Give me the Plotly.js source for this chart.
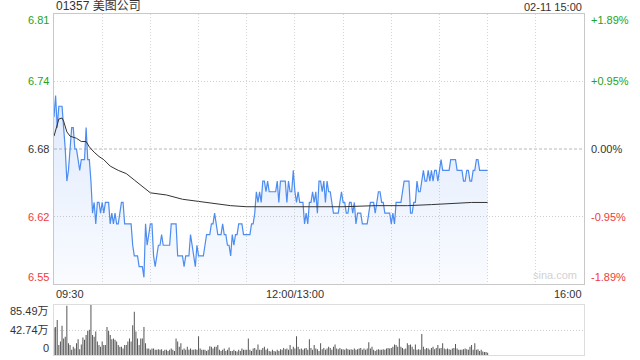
<!DOCTYPE html>
<html><head><meta charset="utf-8">
<script src="https://cdn.plot.ly/plotly-3.0.1.min.js"></script>
<style>html,body{margin:0;padding:0;background:#fff}#chart{width:640px;height:360px}</style>
</head><body><div id="chart"></div>
<script>
const chartTitle = '01357 美图公司';
const stamp = '02-11 15:00';
const prevClose = 6.68;

// one price per trading minute (0 = 09:30, 150 = 12:00/13:00, 270 = 15:00)
const price = [
6.71,6.73,6.70,6.72,6.72,6.72,6.70,6.68,6.65,6.66,
6.68,6.70,6.70,6.68,6.68,6.67,6.66,6.67,6.67,6.67,
6.70,6.67,6.67,6.65,6.62,6.63,6.61,6.63,6.63,6.62,
6.63,6.62,6.63,6.63,6.63,6.61,6.62,6.61,6.62,6.61,
6.61,6.62,6.63,6.63,6.61,6.61,6.61,6.61,6.61,6.59,
6.58,6.58,6.58,6.57,6.57,6.57,6.56,6.61,6.59,6.60,
6.61,6.61,6.58,6.57,6.58,6.59,6.59,6.60,6.59,6.59,
6.59,6.59,6.59,6.61,6.61,6.61,6.61,6.58,6.58,6.58,
6.58,6.57,6.58,6.58,6.58,6.60,6.59,6.58,6.57,6.59,
6.58,6.58,6.58,6.58,6.59,6.60,6.60,6.60,6.61,6.61,
6.62,6.61,6.60,6.60,6.60,6.61,6.60,6.60,6.59,6.59,
6.58,6.60,6.59,6.60,6.60,6.61,6.61,6.61,6.60,6.60,
6.60,6.60,6.60,6.61,6.61,6.62,6.64,6.63,6.64,6.63,
6.65,6.65,6.64,6.65,6.64,6.64,6.64,6.64,6.64,6.65,
6.63,6.65,6.65,6.65,6.65,6.63,6.65,6.64,6.64,6.66,
6.64,6.63,6.64,6.63,6.63,6.63,6.61,6.62,6.61,6.63,
6.63,6.64,6.63,6.64,6.62,6.65,6.65,6.64,6.65,6.63,
6.65,6.64,6.64,6.63,6.62,6.62,6.62,6.62,6.63,6.64,
6.63,6.63,6.62,6.62,6.63,6.63,6.62,6.63,6.61,6.62,
6.62,6.62,6.61,6.61,6.61,6.61,6.62,6.63,6.63,6.63,
6.62,6.63,6.64,6.64,6.63,6.63,6.62,6.62,6.62,6.62,
6.61,6.62,6.61,6.63,6.63,6.63,6.63,6.64,6.65,6.65,
6.65,6.65,6.62,6.62,6.63,6.63,6.65,6.64,6.64,6.65,
6.66,6.65,6.65,6.66,6.65,6.66,6.65,6.66,6.66,6.65,
6.66,6.67,6.66,6.66,6.66,6.66,6.66,6.67,6.67,6.67,
6.67,6.66,6.66,6.66,6.66,6.65,6.65,6.66,6.66,6.65,
6.65,6.66,6.66,6.67,6.67,6.66,6.66,6.66,6.66,6.66,
6.66
];
const minutes = price.map((_, i) => i);

// average price line, read at these minutes
const avgMinutes = [0,3,5,6,8,10,14,17,20,22,25,28,31,35,40,45,50,55,60,70,80,90,100,110,120,150,180,200,220,235,245,260,270];
const avgPrice   = [6.692,6.708,6.709,6.706,6.696,6.692,6.690,6.687,6.687,6.682,6.677,6.673,6.670,6.664,6.660,6.657,6.651,6.645,6.639,6.637,6.633,6.631,6.629,6.627,6.626,6.626,6.626,6.627,6.627,6.628,6.629,6.630,6.630];

// volume per minute, in 万 shares
const volume = [
47,48,60,17,23,50,28,31,84,20,
17,9,14,11,20,27,10,18,30,26,
34,41,43,85.49,34,31,40,23,17,14,
23,17,17,48,41,34,27,28,26,23,
17,14,14,11,17,17,23,28,23,51,
74,40,28,17,28,28,48,20,11,11,
9,11,11,9,9,10,9,10,7,9,
9,7,9,11,9,7,28,23,14,20,
9,11,9,14,9,11,9,9,10,9,
32,11,9,9,9,7,9,15,14,11,
14,14,17,9,7,9,11,7,9,13,
7,7,9,7,6,9,7,11,9,9,
9,28,9,7,11,12,9,18,9,9,
12,14,9,11,
7,6,9,7,6,9,7,10,9,12,
10,11,9,17,10,14,11,32,14,10,
11,9,11,12,9,27,12,9,17,11,
10,7,20,10,12,9,11,14,12,9,
14,18,11,10,12,10,10,9,11,10,
9,10,9,11,9,10,11,12,9,11,
9,11,22,11,14,9,7,9,10,9,
9,10,9,11,12,11,12,14,18,17,
14,28,14,12,10,11,20,17,18,14,
10,18,9,10,9,36,14,10,12,11,
9,12,14,10,12,17,11,12,20,11,
10,11,10,9,11,12,19,11,9,9,
9,10,11,10,9,14,17,9,20,9,
10,7,9,6,5,5,4
];

const pctTicks = [1.89, 0.95, 0, -0.95, -1.89];
const priceTickLabels = ['6.81', '6.74', '6.68', '6.62', '6.55'];
const pctTickLabels = ['+1.89%', '+0.95%', '0.00%', '-0.95%', '-1.89%'];
const timeTickVals = [0, 150, 330];
const timeTickLabels = ['09:30', '12:00/13:00', '16:00'];
const volTickVals = [85.49, 42.745, 0];
const volTickLabels = ['85.49万', '42.74万', '0'];

const GREEN = '#22a322', RED = '#f03a3a', DARK = '#333333';
const FONT = 'Liberation Sans, Arial, Noto Sans CJK SC, sans-serif';
const yRange = [prevClose * (1 - 0.0189), prevClose * (1 + 0.0189)];
const mainBottom = (355 - 284) / 341;
const volTop = (355 - 305) / 341;

const traces = [
  {
    x: minutes, y: price, type: 'scatter', mode: 'lines',
    line: {color: '#4d8cf0', width: 1.2},
    fill: 'tozeroy',
    fillgradient: {type: 'vertical', start: yRange[0], stop: 6.73,
      colorscale: [[0, 'rgba(70,130,240,0.03)'], [1, 'rgba(70,130,240,0.17)']]},
    xaxis: 'x', yaxis: 'y', hoverinfo: 'skip'
  },
  {
    x: avgMinutes, y: avgPrice, type: 'scatter', mode: 'lines',
    line: {color: '#333333', width: 1}, xaxis: 'x', yaxis: 'y', hoverinfo: 'skip'
  },
  {
    x: minutes, y: volume, type: 'bar', width: 0.62,
    marker: {color: '#555555', line: {width: 0}},
    xaxis: 'x2', yaxis: 'y2', hoverinfo: 'skip'
  }
];

const annotations = [];
annotations.push({xref: 'paper', yref: 'paper', x: 0, y: 1, xanchor: 'left', yanchor: 'bottom',
  text: chartTitle, showarrow: false, font: {family: FONT, size: 12, color: DARK}, yshift: -1});
annotations.push({xref: 'paper', yref: 'paper', x: 1, y: 1, xanchor: 'right', yanchor: 'bottom',
  text: stamp, showarrow: false, font: {family: FONT, size: 11, color: DARK}, yshift: -1});

pctTicks.forEach((p, i) => {
  const col = p > 0 ? GREEN : (p < 0 ? RED : DARK);
  const ys = i === 0 ? -6 : (i === pctTicks.length - 1 ? 7 : 0);
  const yv = prevClose * (1 + p / 100);
  annotations.push({xref: 'paper', yref: 'y', x: 0, y: yv, xanchor: 'right', yanchor: 'middle',
    xshift: -3, yshift: ys, text: priceTickLabels[i], showarrow: false, font: {family: FONT, size: 11, color: col}});
  annotations.push({xref: 'paper', yref: 'y', x: 1, y: yv, xanchor: 'left', yanchor: 'middle',
    xshift: 5, yshift: ys, text: pctTickLabels[i], showarrow: false, font: {family: FONT, size: 11, color: col}});
});

timeTickVals.forEach((t, i) => {
  annotations.push({xref: 'x', yref: 'paper', x: t, y: mainBottom, yanchor: 'top',
    xanchor: i === 0 ? 'left' : (i === timeTickVals.length - 1 ? 'right' : 'center'),
    yshift: -2, text: timeTickLabels[i], showarrow: false, font: {family: FONT, size: 11, color: DARK}});
});

volTickVals.forEach((v, i) => {
  const ys = i === 0 ? -6 : (i === volTickVals.length - 1 ? 7 : 0);
  annotations.push({xref: 'paper', yref: 'y2', x: 0, y: v, xanchor: 'right', yanchor: 'middle',
    xshift: -3, yshift: ys, text: volTickLabels[i], showarrow: false, font: {family: FONT, size: 11, color: DARK}});
});

annotations.push({xref: 'paper', yref: 'paper', x: 1, y: mainBottom, xanchor: 'right', yanchor: 'bottom',
  xshift: -5, yshift: 1, text: 'sina.com', showarrow: false, font: {family: FONT, size: 11, color: '#d2d2d2'}});

const gridX = [];
for (let t = 30; t < 330; t += 30) gridX.push(t);

const layout = {
  width: 640, height: 360,
  margin: {l: 54, r: 56, t: 14, b: 5, pad: 0},
  paper_bgcolor: '#fff', plot_bgcolor: '#fff',
  showlegend: false,
  font: {family: FONT, size: 11, color: DARK},
  xaxis: {domain: [0, 1], range: [0, 330], anchor: 'y', tickvals: gridX, showticklabels: false, ticks: '',
    showgrid: true, gridcolor: '#d6d6d6', griddash: '1px,2px', gridwidth: 1,
    showline: true, mirror: true, linecolor: '#c8c8c8', linewidth: 1, zeroline: false, fixedrange: true},
  yaxis: {domain: [mainBottom, 1], range: yRange, anchor: 'x',
    tickvals: [prevClose * 1.0095, prevClose * 0.9905], showticklabels: false, ticks: '',
    showgrid: true, gridcolor: '#cfcfcf', griddash: '1px,2px', gridwidth: 1,
    showline: true, mirror: true, linecolor: '#c8c8c8', linewidth: 1, zeroline: false, fixedrange: true},
  xaxis2: {domain: [0, 1], range: [0, 330], anchor: 'y2', showgrid: false, showticklabels: false, ticks: '',
    showline: true, mirror: true, linecolor: '#dddddd', linewidth: 1, zeroline: false, fixedrange: true},
  yaxis2: {domain: [0, volTop], range: [0, 85.49], anchor: 'x2', tickvals: [42.745, 85.49],
    showticklabels: false, ticks: '', showgrid: true, gridcolor: '#cfcfcf', griddash: '1px,2px',
    showline: true, mirror: true, linecolor: '#dddddd', linewidth: 1, zeroline: false, fixedrange: true},
  shapes: [{type: 'line', xref: 'paper', yref: 'y', x0: 0, x1: 1, y0: prevClose, y1: prevClose,
    line: {color: '#b8b8b8', width: 1, dash: '3px,2px'}, layer: 'below'}],
  annotations: annotations
};

Plotly.newPlot('chart', traces, layout, {staticPlot: true, displayModeBar: false});
</script>
</body></html>
